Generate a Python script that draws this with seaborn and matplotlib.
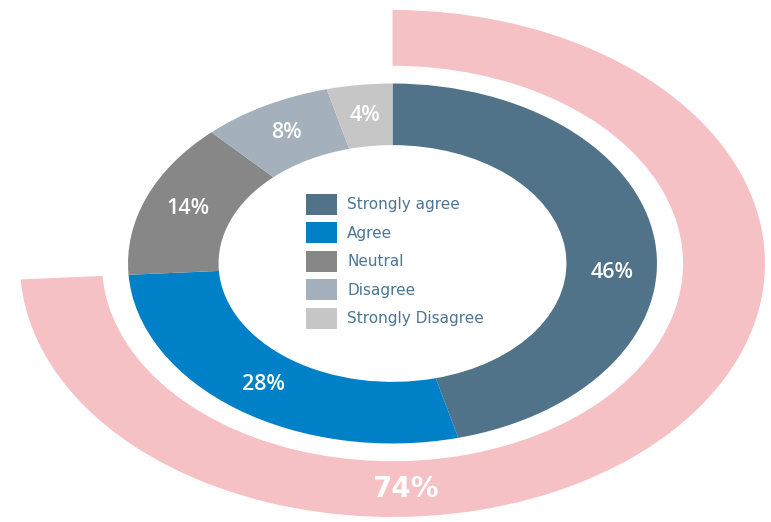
import matplotlib
matplotlib.use("Agg")
import matplotlib.pyplot as plt
import seaborn as sns

categories = ["Strongly agree", "Agree", "Neutral", "Disagree", "Strongly Disagree"]
values = [46, 28, 14, 8, 4]
slice_labels = ["46%", "28%", "14%", "8%", "4%"]
colors = ["#50738a", "#0080c6", "#878787", "#a4b1bc", "#c6c6c6"]

outer_values = [74, 26]
outer_label = "74%"
outer_colors = ["#f6c1c4", "none"]

sns.set_theme(style="white")
plt.rcParams["font.family"] = ["Open Sans", "DejaVu Sans"]

fig = plt.figure(figsize=(7.71, 5.22), dpi=100)
ax = fig.add_axes([20 / 771, 5 / 522, 745 / 771, 507 / 522])

# outer pink ring
outer_wedges, _ = ax.pie(outer_values, colors=outer_colors, radius=1.0, startangle=90,
                         counterclock=False, wedgeprops=dict(width=0.22, linewidth=0))

# inner donut
wedges, texts = ax.pie(values, colors=colors, radius=0.71, startangle=90, counterclock=False,
                       labels=slice_labels, labeldistance=0.59 / 0.71,
                       wedgeprops=dict(width=0.243, linewidth=0),
                       textprops=dict(color="white", fontsize=15.5, fontweight="semibold",
                                      ha="center", va="center"))
for t in texts:
    t.set_horizontalalignment("center")
    t.set_verticalalignment("center")
texts[0].set_position((0.59, -0.035))

ax.text(0.035, -0.89, outer_label, color="white", fontsize=20, fontweight="bold",
        family="DejaVu Sans", ha="center", va="center")

leg = ax.legend(wedges, categories, loc="upper left", bbox_to_anchor=(0.384, 0.637),
                frameon=False, prop=dict(family="DejaVu Sans", size=11),
                handlelength=2.03, handleheight=1.735,
                labelspacing=0.49, handletextpad=0.65, borderpad=0, borderaxespad=0)
for t in leg.get_texts():
    t.set_color("#4a7694")

ax.set_xlim(-1, 1)
ax.set_ylim(-1, 1)
ax.set_aspect("auto")
ax.axis("off")

fig.savefig("out.png", dpi=100)
